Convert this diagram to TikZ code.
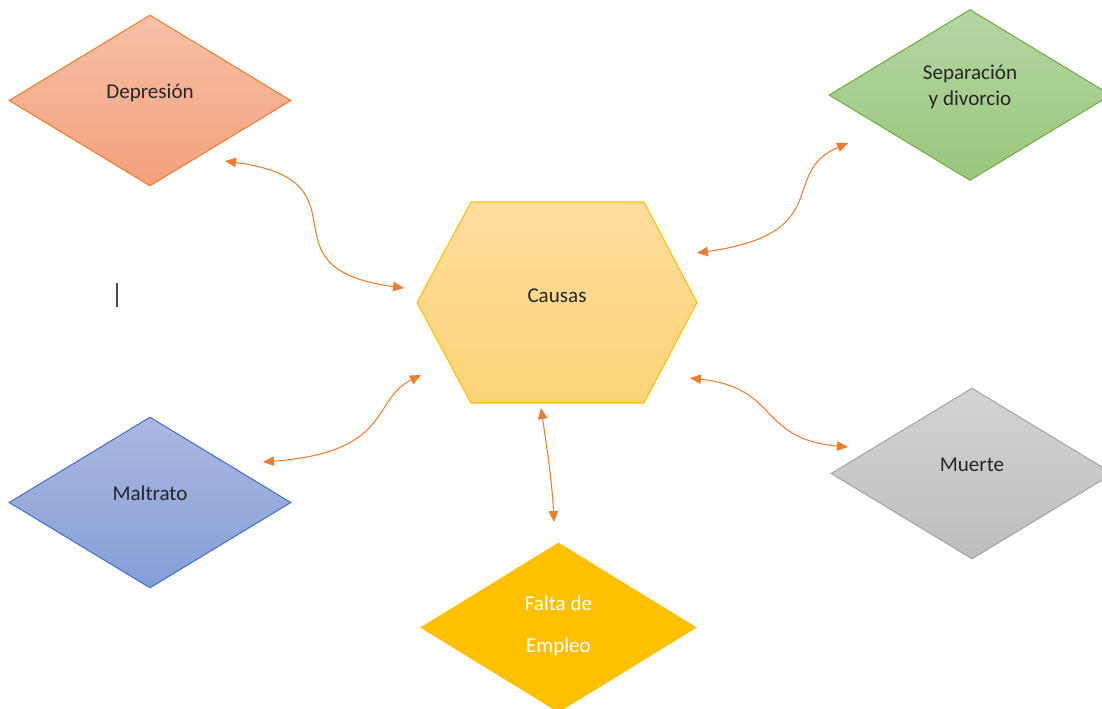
\documentclass[tikz,border=0pt]{standalone}
\usepackage{fontspec}
\setmainfont{Carlito}
\usepackage{tikz}
\usetikzlibrary{shapes.geometric,arrows.meta}
\definecolor{LinkOrange}{RGB}{237,125,49}
\definecolor{DepTop}{RGB}{246,192,168}
\definecolor{DepBot}{RGB}{244,160,122}
\definecolor{SepTop}{RGB}{180,214,164}
\definecolor{SepBot}{RGB}{154,198,124}
\definecolor{SepEdge}{RGB}{112,173,71}
\definecolor{MalTop}{RGB}{170,184,225}
\definecolor{MalBot}{RGB}{134,158,215}
\definecolor{MalEdge}{RGB}{68,114,196}
\definecolor{MueTop}{RGB}{211,211,211}
\definecolor{MueBot}{RGB}{190,190,190}
\definecolor{MueEdge}{RGB}{165,165,165}
\definecolor{CauTop}{RGB}{254,221,158}
\definecolor{CauBot}{RGB}{254,212,120}
\definecolor{Gold}{RGB}{255,192,0}

\begin{document}
\begin{tikzpicture}[x=0.02cm,y=-0.02cm,font=\fontsize{12}{15.3}\selectfont,
  dia/.style n args={3}{diamond,draw=#1,top color=#2,bottom color=#3,line width=0.6pt,inner sep=0pt,
    minimum width=5.64cm,minimum height=3.42cm,align=center,text=black!85,text height=8pt,text depth=10pt},
  link/.style={draw=LinkOrange,line width=0.6pt,<->,>={Triangle[length=0.22cm,width=0.19cm]}}]
    \clip (0,0) rectangle (1102,708);
    \shade[top color=CauTop,bottom color=CauBot,draw=Gold,line width=0.6pt]
       (417,302.5) -- (471,202) -- (644,202) -- (697,302.5) -- (644,403) -- (471,403) -- cycle;
    \node[text=black!85,text height=8pt,text depth=8.5pt] (causas) at (557,302.5) {Causas};
       \node[dia={LinkOrange}{DepTop}{DepBot}] (dep) at (150,100.5) {Depresión};
       \node[dia={SepEdge}{SepTop}{SepBot},text height=20.2pt,text depth=7.8pt] (sep) at (970,95) {Separación\\y divorcio};
       \node[dia={MalEdge}{MalTop}{MalBot}] (mal) at (150,502.5) {Maltrato};
       \node[dia={MueEdge}{MueTop}{MueBot}] (mue) at (972,473.5) {Muerte};
       \node[dia={Gold}{Gold}{Gold},text=white,minimum width=5.5cm,minimum height=3.38cm,text height=33pt,text depth=4.5pt]
          (falta) at (558.5,627.5) {Falta de\\[8.5pt]Empleo};
    \coordinate (dA) at (225,161); \coordinate (cA) at (404,288);
    \coordinate (cB) at (697,253); \coordinate (sB) at (848,143);
    \coordinate (mC) at (263,462); \coordinate (cC) at (421,375);
    \coordinate (cD) at (690,378); \coordinate (uD) at (848,447);
    \coordinate (cE) at (541,408); \coordinate (fE) at (554,522);
    \draw[link] (dA) .. controls +(150,20) and +(-150,-20) .. (cA);
    \draw[link] (cB) .. controls +(140,-20) and +(-70,30) .. (sB);
    \draw[link] (mC) .. controls +(130,-10) and +(-50,25) .. (cC);
    \draw[link] (cD) .. controls +(90,10) and +(-90,-8) .. (uD);
    \draw[link] (cE) .. controls +(6,40) and +(-2,-40) .. (fE);
    \draw[black!70,line width=0.8pt] (117,283) -- (117,307);
\end{tikzpicture}
\end{document}
